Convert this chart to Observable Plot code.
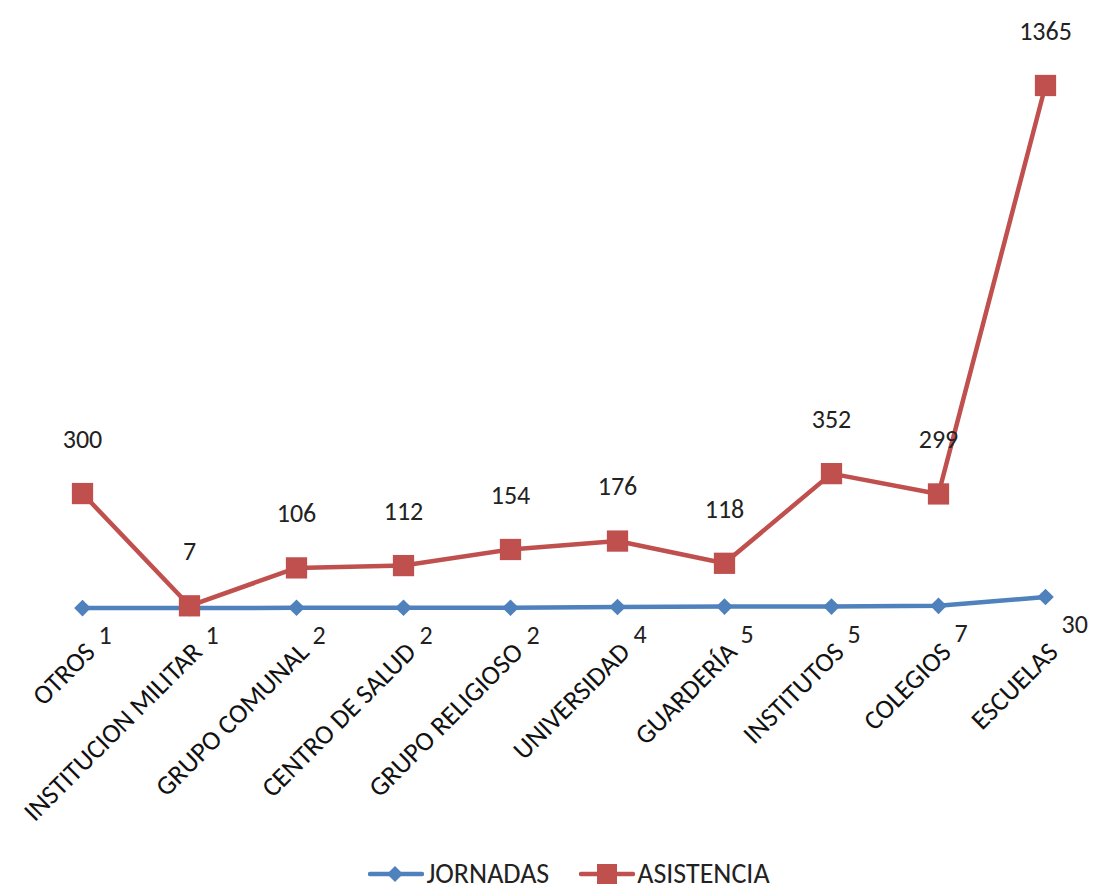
<!DOCTYPE html>
<html>
<head>
<meta charset="utf-8">
<script src="https://cdn.jsdelivr.net/npm/d3@7"></script>
<script src="https://cdn.jsdelivr.net/npm/@observablehq/plot@0.6"></script>
<style>
  body { margin: 0; background: #fff; font-family: Carlito, Lato, "Open Sans", sans-serif; overflow: hidden; }
  #chart svg { display: block; overflow: visible; }
  #legend { display: flex; justify-content: center; align-items: center; gap: 30px; height: 32px; line-height: 32px; padding-top: 24px; padding-left: 36px; font-size: 28px; color: #222; }
  #legend span.item { display: flex; align-items: center; gap: 2px; }
</style>
</head>
<body>
<div id="chart"></div>
<div id="legend"></div>
<script>
const categories = ["OTROS", "INSTITUCION MILITAR", "GRUPO COMUNAL", "CENTRO DE SALUD", "GRUPO RELIGIOSO", "UNIVERSIDAD", "GUARDERÍA", "INSTITUTOS", "COLEGIOS", "ESCUELAS"];
const jornadas = [1, 1, 2, 2, 2, 4, 5, 5, 7, 30];
const asistencia = [300, 7, 106, 112, 154, 176, 118, 352, 299, 1365];
const seriesNames = ["JORNADAS", "ASISTENCIA"];
const colors = ["#4f81bd", "#c0504d"];

const jData = categories.map((c, i) => ({cat: c, v: jornadas[i]}));
const aData = categories.map((c, i) => ({cat: c, v: asistencia[i]}));
const font = "Carlito, Lato, 'Open Sans', sans-serif";

const chart = Plot.plot({
  width: 1102,
  height: 834,
  style: {fontFamily: font, fontSize: "26px", color: "#222", background: "#fff"},
  x: {type: "point", domain: categories, range: [78, 1049], padding: 0, axis: null},
  y: {domain: [0, 1365], range: [608, 85], axis: null},
  marks: [
    Plot.line(jData, {x: "cat", y: "v", stroke: colors[0], strokeWidth: 4.5}),
    Plot.dot(jData, {x: "cat", y: "v", symbol: "diamond2", r: 7.5, fill: colors[0], stroke: null}),
    Plot.line(aData, {x: "cat", y: "v", stroke: colors[1], strokeWidth: 4.5}),
    Plot.dot(aData, {x: "cat", y: "v", symbol: "square", r: 12, fill: colors[1], stroke: null}),
    Plot.text(aData, {x: "cat", y: "v", text: d => String(d.v), dy: -54, fill: "#222", fontSize: 26}),
    Plot.text(jData, {x: "cat", y: "v", text: d => String(d.v), dx: 16, dy: 28, textAnchor: "start", fill: "#222", fontSize: 26}),
    Plot.text(categories, {x: d => d, y: () => 0, text: d => d, rotate: -45, textAnchor: "end", dx: 8, dy: 39, fill: "#111", fontSize: 27})
  ]
});
document.getElementById("chart").appendChild(chart);

const legend = document.getElementById("legend");
const symbols = [
  '<polygon points="27,2 35,10 27,18 19,10" fill="' + colors[0] + '"/>',
  '<rect x="18" y="0" width="20" height="20" fill="' + colors[1] + '"/>'
];
seriesNames.forEach((name, i) => {
  const item = document.createElement("span");
  item.className = "item";
  item.innerHTML = '<svg width="56" height="20"><line x1="2" y1="10" x2="54" y2="10" stroke="' + colors[i] + '" stroke-width="4.5" stroke-linecap="round"/>' + symbols[i] + '</svg><span>' + name + '</span>';
  legend.appendChild(item);
});
</script>
</body>
</html>
